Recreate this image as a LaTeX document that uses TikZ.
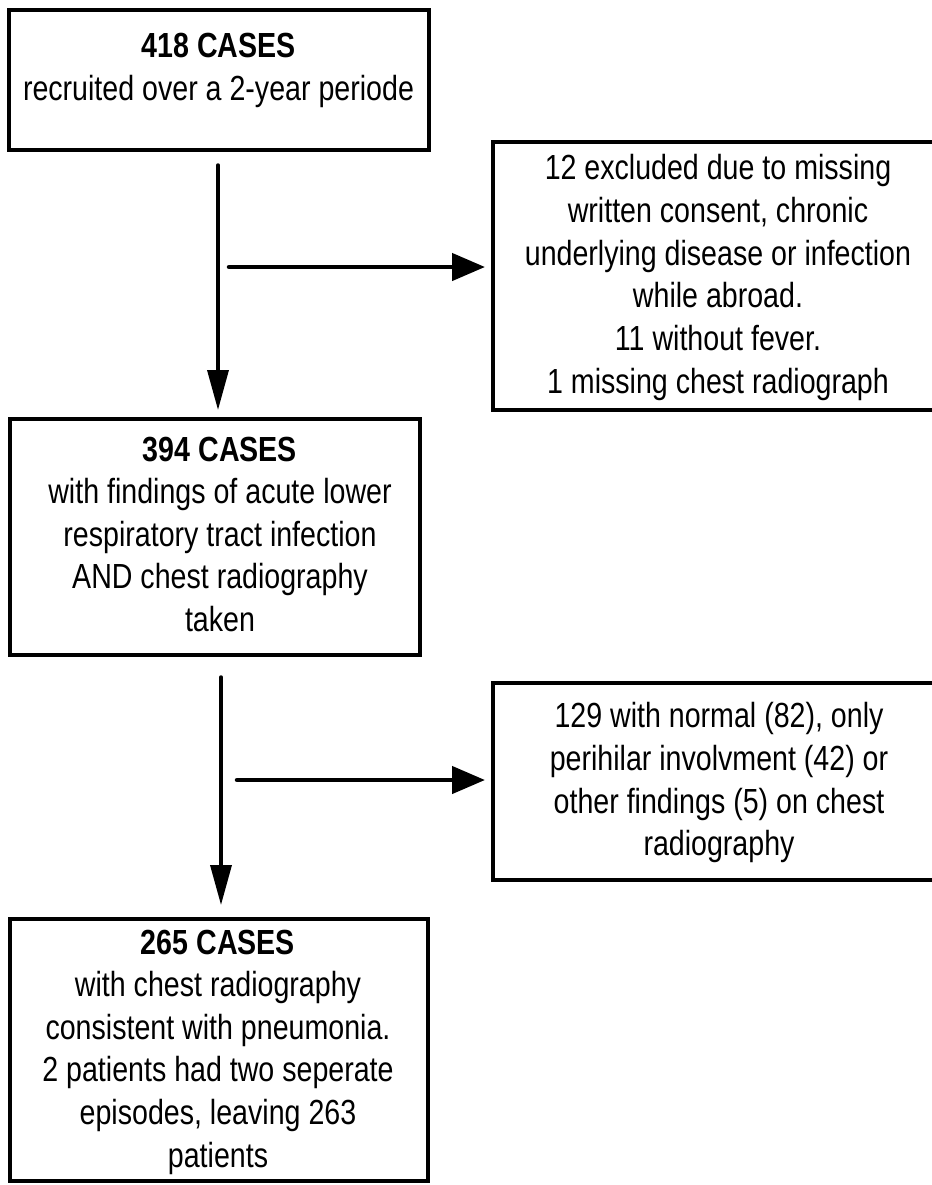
\documentclass[tikz,border=0pt]{standalone}
\usepackage{fontspec}
\setmainfont{Liberation Sans}[FakeStretch=0.82]
\usetikzlibrary{arrows.meta}
\begin{document}
\begin{tikzpicture}[x=1bp,y=-1bp,
  box/.style={draw, line width=4.5bp, inner sep=0pt},
  txt/.style={align=center, inner sep=0pt, anchor=north, font=\fontsize{35}{42.8}\selectfont},
  varr/.style={line width=3.5bp, line cap=round, -{Triangle[length=40bp,width=21bp]}},
  harr/.style={line width=4.5bp, line cap=round, -{Triangle[length=33bp,width=27bp]}}]
\useasboundingbox (0,0) rectangle (932,1185);
\clip (0,0) rectangle (932,1185);
% boxes
\node[box, minimum width=420bp, minimum height=140bp] (b1) at (219,80) {};
\node[box, minimum width=452bp, minimum height=268bp] (b2) at (719,276) {};
\node[box, minimum width=410bp, minimum height=236bp] (b3) at (215,537) {};
\node[box, minimum width=452bp, minimum height=197bp] (b4) at (719,781.5) {};
\node[box, minimum width=418bp, minimum height=262bp] (b5) at (219,1050) {};
% texts
\node[txt] (t1) at (218.5,33) {\textbf{418 CASES}\\recruited over a 2-year periode};
\node[txt] (t2) at (718,154.5) {12 excluded due to missing\\written consent, chronic\\underlying disease or infection\\while abroad.\\11 without fever.\\1 missing chest radiograph};
\node[txt] (t3) at (220,436.5) {\textbf{394 CASES}\\with findings of acute lower\\respiratory tract infection\\AND chest radiography\\taken};
\node[txt] (t4) at (719,702.5) {129 with normal (82), only\\perihilar involvment (42) or\\other findings (5) on chest\\radiography};
\node[txt] (t5) at (218,929.5) {\textbf{265 CASES}\\with chest radiography\\consistent with pneumonia.\\2 patients had two seperate\\episodes, leaving 263\\patients};
% connectors
\coordinate (v1s) at (218,165);
\coordinate (h1s) at (229,267);
\coordinate (v2s) at (221,677);
\coordinate (h2s) at (237,780);
\draw[varr, shorten >=6.75bp] (v1s) -- (v1s |- b3.north);
\draw[harr, shorten >=5.75bp] (h1s) -- (h1s -| b2.west);
\draw[varr, shorten >=11.75bp] (v2s) -- (v2s |- b5.north);
\draw[harr, shorten >=5.75bp] (h2s) -- (h2s -| b4.west);
\end{tikzpicture}
\end{document}
